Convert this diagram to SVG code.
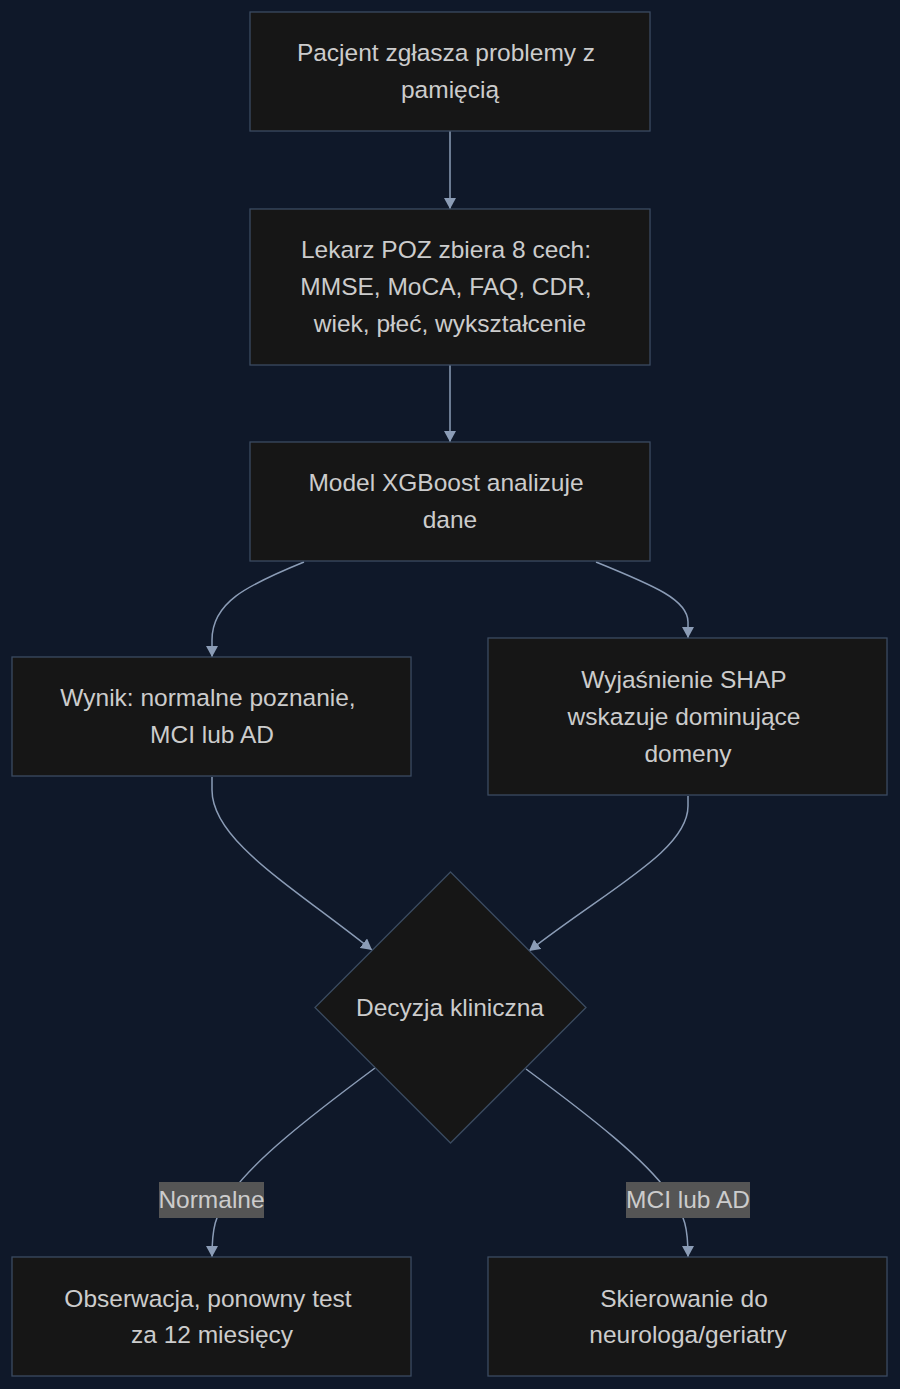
<svg xmlns="http://www.w3.org/2000/svg" width="900" height="1389" viewBox="0 0 900 1389">
<style>
.n{fill:#161616;stroke:#3b4b61;stroke-width:1.3}
.t{font-family:"Liberation Sans",Arial,sans-serif;font-size:24.5px;fill:#cccccc;text-anchor:middle}
.e{fill:none;stroke:#8b9cb6;stroke-width:1.5}
.lb{fill:#555555}
</style>
<defs>
<marker id="ah" markerUnits="userSpaceOnUse" markerWidth="12" markerHeight="12" refX="11" refY="6" orient="auto">
<path d="M0,0 L11,6 L0,12 z" fill="#8b9cb6"/>
</marker>
</defs>
<rect width="900" height="1389" fill="#0f1829"/>
<g id="edges">
<path class="e" d="M450,131 L450,209" marker-end="url(#ah)"/>
<path class="e" d="M450,365 L450,442" marker-end="url(#ah)"/>
<path class="e" d="M304,562 C245,586 212,603 212,640 L212,657" marker-end="url(#ah)"/>
<path class="e" d="M596,562 C655,586 688,600 688,622 L688,638" marker-end="url(#ah)"/>
<path class="e" d="M212,777 L212,790 C212,840 290,885 372,950" marker-end="url(#ah)"/>
<path class="e" d="M688,796 L688,806 C688,850 610,888 529,951" marker-end="url(#ah)"/>
<path class="e" d="M375,1068 C305,1120 255,1160 232,1192 C214,1215 212,1230 212,1257" marker-end="url(#ah)"/>
<path class="e" d="M526,1069 C595,1120 645,1160 668,1192 C686,1215 688,1230 688,1257" marker-end="url(#ah)"/>
<g id="label-normalne">
<rect class="lb" x="159" y="1182" width="105" height="36"/>
<text class="t" x="211.5" y="1208">Normalne</text>
</g>
<g id="label-mci">
<rect class="lb" x="626" y="1182" width="124" height="36"/>
<text class="t" x="688" y="1208">MCI lub AD</text>
</g>
</g>
<g id="n1">
<rect class="n" x="250" y="12" width="400" height="119"/>
<text class="t" x="446" y="61">Pacjent zgłasza problemy z</text>
<text class="t" x="450" y="98">pamięcią</text>
</g>
<g id="n2">
<rect class="n" x="250" y="209" width="400" height="156"/>
<text class="t" x="446" y="258">Lekarz POZ zbiera 8 cech:</text>
<text class="t" x="446" y="295">MMSE, MoCA, FAQ, CDR,</text>
<text class="t" x="450" y="332">wiek, płeć, wykształcenie</text>
</g>
<g id="n3">
<rect class="n" x="250" y="442" width="400" height="119"/>
<text class="t" x="446" y="491">Model XGBoost analizuje</text>
<text class="t" x="450" y="528">dane</text>
</g>
<g id="n4">
<rect class="n" x="12" y="657" width="399" height="119"/>
<text class="t" x="208" y="706">Wynik: normalne poznanie,</text>
<text class="t" x="212" y="743">MCI lub AD</text>
</g>
<g id="n5">
<rect class="n" x="488" y="638" width="399" height="157"/>
<text class="t" x="684" y="688">Wyjaśnienie SHAP</text>
<text class="t" x="684" y="725">wskazuje dominujące</text>
<text class="t" x="688" y="762">domeny</text>
</g>
<g id="n6">
<polygon class="n" points="450.5,872 586,1007.5 450.5,1143 315,1007.5"/>
<text class="t" x="450" y="1016">Decyzja kliniczna</text>
</g>
<g id="n7">
<rect class="n" x="12" y="1257" width="399" height="119"/>
<text class="t" x="208" y="1307">Obserwacja, ponowny test</text>
<text class="t" x="212" y="1343">za 12 miesięcy</text>
</g>
<g id="n8">
<rect class="n" x="488" y="1257" width="399" height="119"/>
<text class="t" x="684" y="1307">Skierowanie do</text>
<text class="t" x="688" y="1343">neurologa/geriatry</text>
</g>
</svg>
